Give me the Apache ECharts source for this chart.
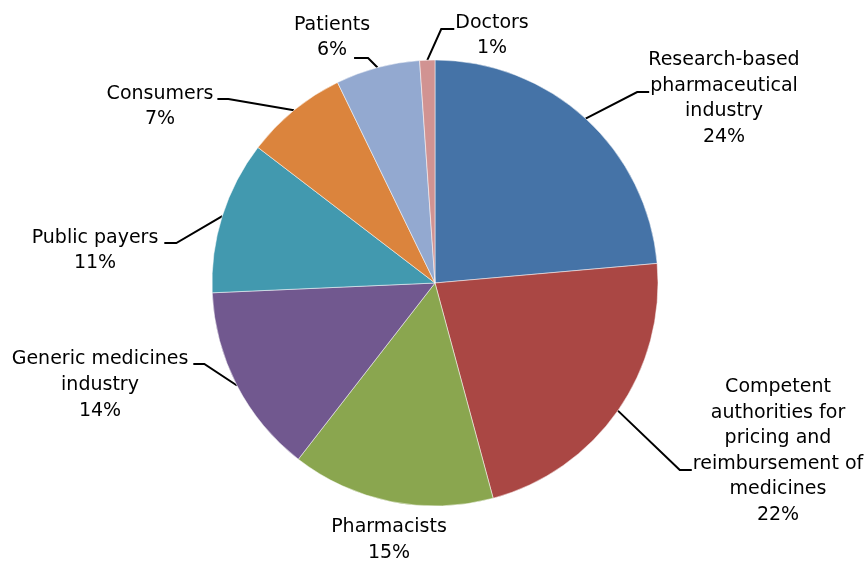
<!DOCTYPE html>
<html>
<head>
<meta charset="utf-8">
<script src="https://cdn.jsdelivr.net/npm/echarts@6/dist/echarts.min.js"></script>
<style>html,body{margin:0;padding:0;background:#fff;}#chart{width:865px;height:561px;}</style>
</head>
<body>
<div id="chart"></div>
<script>
// ---- data ----
const categories = [
  'Research-based\npharmaceutical\nindustry',
  'Competent\nauthorities for\npricing and\nreimbursement of\nmedicines',
  'Pharmacists',
  'Generic medicines\nindustry',
  'Public payers',
  'Consumers',
  'Patients',
  'Doctors'
];
const shares = [23.6, 22.2, 14.7, 13.8, 11.1, 7.4, 6.1, 1.1];
const percentLabels = ['24%', '22%', '15%', '14%', '11%', '7%', '6%', '1%'];

// ---- styling ----
const colors = ['#4573A7', '#AA4744', '#8AA64F', '#71588F', '#4299AF', '#DB843D', '#93A9D0', '#D19392'];
const FONT = 'DejaVu Sans';
const FONT_SIZE = 19;
const LINE_H = 25.6;
// label block centre, leader attachment side, line used for width, vertical offset of attachment, gap, elbow length
const labelPlacement = [
  {cx: 724, cy: 98.5, side: 'left',  line: 1, dy: -6.5, gap: 1, elbow: 12},
  {cx: 778, cy: 451,  side: 'left',  line: 3, dy: 19,   gap: 1, elbow: 12},
  {cx: 389, cy: 540,  side: null},
  {cx: 100, cy: 385,  side: 'right', line: 0, dy: -21,  gap: 5, elbow: 11},
  {cx: 95,  cy: 250.5,side: 'right', line: 0, dy: -7.5, gap: 6, elbow: 12},
  {cx: 160, cy: 106.5,side: 'right', line: 0, dy: -7.5, gap: 4, elbow: 11},
  {cx: 332, cy: 37.5, side: 'right', line: 1, dy: 20.5, gap: 7, elbow: 14},
  {cx: 492, cy: 35.5, side: 'left',  line: 0, dy: -6.5, gap: 1, elbow: 13}
];

const measureCtx = document.createElement('canvas').getContext('2d');
measureCtx.font = FONT_SIZE + 'px "' + FONT + '"';
function labelLines(i) { return categories[i].split('\n').concat([percentLabels[i]]); }

const chart = echarts.init(document.getElementById('chart'), null, {renderer: 'canvas'});

function arcMidPoint(idx) {
  const layout = chart.getModel().getSeriesByIndex(0).getData().getItemLayout(idx);
  const mid = (layout.startAngle + layout.endAngle) / 2;
  return [layout.cx + layout.r * Math.cos(mid), layout.cy + layout.r * Math.sin(mid)];
}

chart.setOption({
  backgroundColor: '#fff',
  animation: false,
  series: [{
    type: 'pie',
    center: [435, 283],
    radius: [0, 223],
    startAngle: 90,
    clockwise: true,
    avoidLabelOverlap: false,
    data: categories.map((c, i) => ({
      name: c,
      value: shares[i],
      itemStyle: {color: colors[i]},
      labelLine: {show: labelPlacement[i].side !== null, lineStyle: {color: '#000', width: 2}}
    })),
    itemStyle: {borderColor: '#fff', borderWidth: 0.5},
    label: {
      show: true,
      position: 'outside',
      formatter: p => labelLines(p.dataIndex).map(s => '{c|' + s + '}').join('\n'),
      rich: {c: {align: 'center', fontFamily: FONT, fontSize: FONT_SIZE, lineHeight: LINE_H, color: '#000'}}
    },
    labelLine: {show: true, length: 15, length2: 12, lineStyle: {color: '#000', width: 2}},
    labelLayout: params => {
      const i = params.dataIndex;
      const pl = labelPlacement[i];
      const out = {x: pl.cx, y: pl.cy, align: 'center', verticalAlign: 'middle', hideOverlap: false, moveOverlap: null};
      if (pl.side) {
        const lines = labelLines(i);
        const w = measureCtx.measureText(lines[pl.line]).width;
        const cy = pl.cy + pl.dy;
        let cxp, ex;
        if (pl.side === 'left') { cxp = pl.cx - w / 2 - pl.gap; ex = cxp - pl.elbow; }
        else { cxp = pl.cx + w / 2 + pl.gap; ex = cxp + pl.elbow; }
        const start = (params.labelLinePoints && params.labelLinePoints[0]) ? params.labelLinePoints[0] : arcMidPoint(i);
        out.labelLinePoints = [start, [ex, cy], [cxp, cy]];
      }
      return out;
    }
  }]
});
</script>
</body>
</html>
